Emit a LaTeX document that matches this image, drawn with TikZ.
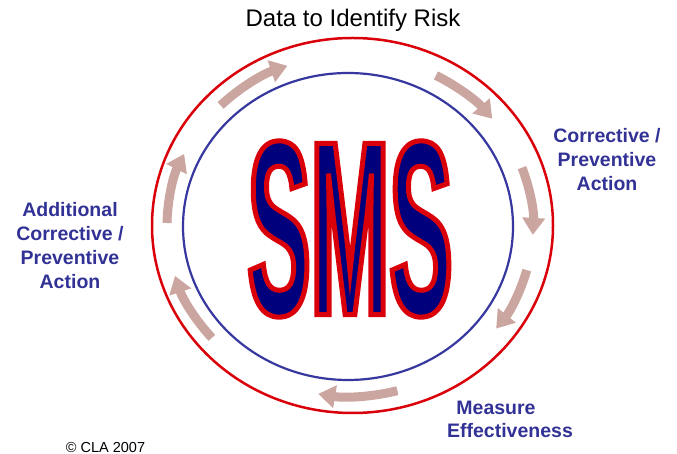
\documentclass[tikz,border=0pt]{standalone}
\usepackage{fontspec}
\setmainfont{Liberation Sans}
\newfontfamily\smsfont{Liberation Sans Bold}[FakeStretch=0.38]
\usepackage{xcolor}
\definecolor{ringred}{RGB}{218,0,10}
\definecolor{ringblue}{RGB}{55,55,160}
\definecolor{labelblue}{RGB}{50,50,150}
\definecolor{flowpink}{RGB}{203,165,160}
\definecolor{smsnavy}{RGB}{0,0,125}
\usepackage{tikz}
\usetikzlibrary{arrows.meta}
% red outline round the glyphs (fill and stroke)
\newcommand{\outlined}[1]{\special{pdf:literal direct 2 Tr 5 w 0.855 0 0.04 RG}#1\special{pdf:literal direct 0 Tr}}

\begin{document}
\begin{tikzpicture}[x=1pt,y=1pt,
  flow/.style={draw=flowpink,line width=9pt,-{Triangle[width=22pt,length=17pt]}},
  steplabel/.style={text=labelblue,font=\fontsize{19.5}{24}\selectfont\bfseries,align=center,inner sep=0}]
\useasboundingbox (0,0) rectangle (677,454);
%rings
\draw[ringred,line width=2.5pt] (352.5,228.5) ellipse [x radius=200.5pt,y radius=187.5pt];
\draw[ringblue,line width=2.2pt] (348,227.5) ellipse [x radius=165pt,y radius=153.5pt];
\coordinate (mid) at (350,228);
%flow arrows round the ring
\foreach \a/\b in {135/110,62/39,20/-3,-15/-37,-75/-100,221/197,179/155}{
  \draw[flow] ([shift={(\a:183pt and 170.5pt)}]mid) arc[start angle=\a,end angle=\b,x radius=183pt,y radius=170.5pt];
}

%centre
\node (sms) at (350,225) [inner sep=0,text=smsnavy,font=\smsfont\fontsize{249}{249}\selectfont] {\outlined{SMS}};

%labels
\node (title) at (353,427) [anchor=base,inner sep=0,font=\fontsize{24}{28}\selectfont] {Data to Identify Risk};
\node (corr) at (607,294) [steplabel] {Corrective /\\Preventive\\Action};
\node (meas) at (496,39) [steplabel,anchor=base] {Measure};
\node (eff) at (510,16) [steplabel,anchor=base] {Effectiveness};
\node (addl) at (70,208) [steplabel] {Additional\\Corrective /\\Preventive\\Action};
\node (copy) at (105.5,1.5) [anchor=base,inner sep=0,font=\fontsize{14.5}{17}\selectfont] {\textcopyright\ CLA 2007};
\end{tikzpicture}
\end{document}
